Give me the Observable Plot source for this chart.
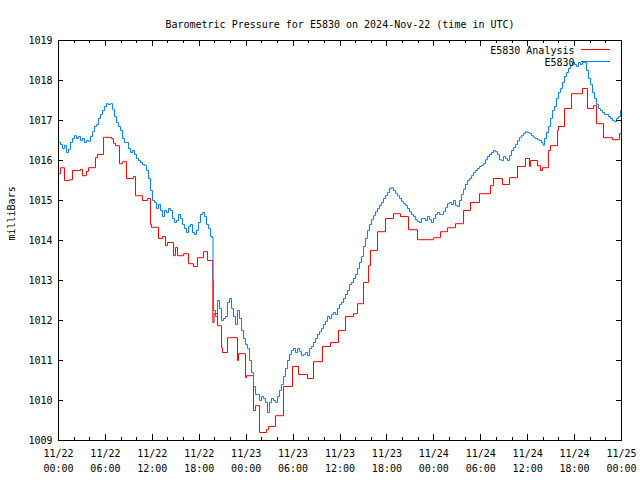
<!DOCTYPE html>
<html>
<head>
<meta charset="utf-8">
<script src="https://cdn.jsdelivr.net/npm/d3@7"></script>
<script src="https://cdn.jsdelivr.net/npm/@observablehq/plot@0.6"></script>
<style>
  html, body { margin: 0; padding: 0; background: #fff; }
  #chart svg { display: block; }
</style>
</head>
<body>
<div id="chart"></div>
<script>
// ---- Data (hours since 2024-11-22 00:00 UTC, pressure in mb) ----
const startTime = "2024-11-22T00:00:00Z";
const endTime = "2024-11-25T00:00:00Z";
const titleText = "Barometric Pressure for E5830 on 2024-Nov-22 (time in UTC)";
const yLabelText = "milliBars";
const seriesNames = ["E5830 Analysis", "E5830"];
const seriesColors = ["#ff0000", "#0080ff"];
const yTicks = [1009, 1010, 1011, 1012, 1013, 1014, 1015, 1016, 1017, 1018, 1019];
const xMajorStepHours = 6;
const xMinorStepHours = 2;

// Station observations (E5830)
const obsHours = [
 0.00,0.26,0.51,0.77,1.02,1.28,1.53,1.79,2.05,2.30,2.56,2.81,3.07,3.33,3.58,3.84,4.09,4.35,4.60,4.86,
 5.12,5.37,5.63,5.88,6.14,6.39,6.65,6.91,7.16,7.42,7.67,7.93,8.19,8.44,8.70,8.95,9.21,9.46,9.72,9.98,
 10.23,10.49,10.74,11.00,11.25,11.51,11.77,12.02,12.28,12.53,12.79,13.05,13.30,13.56,13.81,14.07,14.32,14.58,14.84,15.09,
 15.35,15.60,15.86,16.11,16.37,16.63,16.88,17.14,17.39,17.65,17.90,18.16,18.42,18.67,18.93,19.18,19.44,19.70,19.76,19.82,
 20.08,20.33,20.59,20.85,21.10,21.36,21.61,21.87,22.13,22.38,22.64,22.89,23.15,23.40,23.66,23.92,24.17,24.43,24.68,24.94,
 25.20,25.45,25.71,25.96,26.22,26.47,26.73,26.99,27.24,27.50,27.75,28.01,28.26,28.52,28.78,29.03,29.29,29.54,29.80,30.05,
 30.31,30.57,30.82,31.08,31.33,31.59,31.85,32.10,32.36,32.61,32.87,33.12,33.38,33.64,33.89,34.15,34.40,34.66,34.92,35.17,
 35.43,35.68,35.94,36.19,36.45,36.71,36.96,37.22,37.47,37.73,37.98,38.24,38.50,38.75,39.01,39.26,39.52,39.78,40.03,40.29,
 40.54,40.80,41.05,41.31,41.56,41.82,42.08,42.33,42.59,42.84,43.10,43.36,43.61,43.87,44.12,44.38,44.63,44.89,45.14,45.40,
 45.66,45.91,46.17,46.42,46.68,46.94,47.19,47.45,47.70,47.96,48.21,48.47,48.73,48.98,49.24,49.49,49.75,50.00,50.26,50.52,
 50.77,51.03,51.28,51.54,51.80,52.05,52.31,52.56,52.82,53.07,53.33,53.59,53.84,54.10,54.35,54.61,54.86,55.12,55.38,55.63,
 55.89,56.14,56.40,56.66,56.91,57.17,57.42,57.68,57.93,58.19,58.45,58.70,58.96,59.21,59.47,59.72,59.98,60.24,60.49,60.75,
 61.00,61.26,61.51,61.77,61.96,62.15,62.41,62.66,62.92,63.18,63.43,63.69,63.94,64.20,64.45,64.71,64.97,65.22,65.48,65.73,
 65.99,66.25,66.50,66.76,67.01,67.27,67.52,67.78,68.04,68.29,68.55,68.80,69.06,69.32,69.57,69.83,70.08,70.34,70.59,70.85,
 71.10,71.36,71.62,71.87,72.00
];
const obsValues = [
 1016.46,1016.40,1016.30,1016.38,1016.20,1016.28,1016.45,1016.55,1016.62,1016.55,1016.60,1016.50,1016.55,1016.45,1016.50,1016.48,1016.60,1016.72,1016.85,1016.90,
 1017.05,1017.15,1017.25,1017.35,1017.42,1017.40,1017.42,1017.28,1017.10,1016.95,1016.85,1016.75,1016.55,1016.45,1016.45,1016.30,1016.20,1016.25,1016.15,1016.05,
 1016.00,1015.95,1015.90,1015.88,1015.75,1015.55,1015.25,1015.00,1014.95,1014.80,1014.90,1014.75,1014.60,1014.75,1014.70,1014.80,1014.75,1014.55,1014.45,1014.50,
 1014.65,1014.55,1014.40,1014.30,1014.20,1014.35,1014.40,1014.20,1014.15,1014.25,1014.45,1014.65,1014.70,1014.60,1014.40,1014.30,1014.10,1014.05,1013.00,1012.25,
 1012.10,1012.50,1012.30,1012.00,1012.05,1012.10,1012.45,1012.55,1012.30,1012.10,1011.90,1012.25,1012.05,1011.75,1011.55,1011.40,1011.30,1011.00,1010.70,1010.35,
 1010.15,1010.15,1010.00,1010.10,1010.05,1009.95,1009.70,1009.95,1010.05,1010.00,1009.95,1010.10,1010.25,1010.40,1010.60,1010.80,1011.00,1011.15,1011.25,1011.30,
 1011.20,1011.30,1011.22,1011.12,1011.15,1011.20,1011.12,1011.30,1011.35,1011.45,1011.55,1011.65,1011.72,1011.80,1011.90,1011.98,1012.10,1012.05,1012.15,1012.20,
 1012.15,1012.30,1012.40,1012.45,1012.55,1012.65,1012.75,1012.90,1012.95,1013.05,1013.15,1013.30,1013.45,1013.60,1013.85,1014.05,1014.25,1014.40,1014.52,1014.62,
 1014.72,1014.80,1014.88,1014.95,1015.05,1015.12,1015.20,1015.30,1015.32,1015.25,1015.18,1015.12,1015.05,1014.98,1014.92,1014.88,1014.80,1014.72,1014.65,1014.60,
 1014.52,1014.48,1014.45,1014.55,1014.55,1014.50,1014.60,1014.52,1014.45,1014.55,1014.65,1014.70,1014.65,1014.65,1014.72,1014.82,1014.92,1014.95,1014.90,1015.00,
 1014.88,1014.85,1015.00,1015.15,1015.28,1015.40,1015.50,1015.55,1015.62,1015.70,1015.75,1015.80,1015.85,1015.88,1015.92,1016.02,1016.10,1016.15,1016.20,1016.25,
 1016.22,1016.15,1016.02,1016.00,1016.10,1016.05,1016.00,1016.12,1016.25,1016.32,1016.40,1016.50,1016.58,1016.62,1016.68,1016.72,1016.70,1016.68,1016.62,1016.58,
 1016.55,1016.52,1016.50,1016.45,1016.38,1016.55,1016.70,1016.85,1017.05,1017.25,1017.35,1017.55,1017.70,1017.80,1017.95,1018.10,1018.20,1018.30,1018.37,1018.45,
 1018.40,1018.35,1018.45,1018.40,1018.45,1018.45,1018.25,1018.05,1017.90,1017.70,1017.55,1017.40,1017.30,1017.25,1017.20,1017.15,1017.15,1017.10,1017.05,1017.00,
 1016.97,1017.05,1017.10,1017.25,1017.30
];

// Analysis (E5830 Analysis), stepwise
const anaHours = [
 0.00,0.26,0.77,1.41,1.79,2.81,3.07,3.58,3.84,4.73,4.99,5.76,6.78,7.03,7.29,7.80,8.19,8.70,9.59,9.85,
 10.74,11.38,11.77,11.89,12.79,13.30,13.68,13.94,14.71,14.96,15.22,15.99,16.63,17.27,17.78,18.54,19.06,19.73,19.89,20.33,
 20.85,20.97,21.61,22.89,23.02,23.92,24.04,24.94,25.20,25.71,26.60,26.86,27.75,28.78,29.93,30.70,31.85,32.61,33.76,34.79,
 35.81,36.71,37.73,38.24,39.01,39.65,39.90,40.80,41.82,42.84,43.74,44.76,45.91,47.96,48.85,49.75,50.77,51.80,52.69,53.84,
 55.25,55.63,56.78,57.68,58.70,59.72,60.24,60.37,61.26,61.64,61.90,62.66,62.92,63.82,63.94,64.71,65.61,67.01,67.65,68.42,
 68.80,69.70,70.85,71.75,72.00
];
const anaValues = [
 1015.67,1015.82,1015.50,1015.52,1015.75,1015.78,1015.62,1015.73,1015.82,1016.07,1016.15,1016.58,1016.55,1016.43,1016.37,1015.92,1015.97,1015.55,1015.60,1015.12,
 1015.00,1015.05,1014.40,1014.33,1014.05,1014.10,1013.87,1013.95,1013.62,1013.83,1013.62,1013.67,1013.42,1013.35,1013.57,1013.72,1013.50,1011.95,1012.17,1011.87,
 1011.32,1011.20,1011.57,1011.00,1011.17,1010.57,1010.62,1009.75,1009.87,1009.20,1009.27,1009.35,1009.62,1010.35,1010.85,1010.65,1010.55,1010.97,1011.35,1011.45,
 1011.75,1012.10,1012.17,1012.42,1012.95,1013.37,1013.75,1014.22,1014.55,1014.67,1014.60,1014.27,1014.02,1014.07,1014.22,1014.32,1014.42,1014.75,1014.95,1015.17,
 1015.37,1015.55,1015.40,1015.57,1015.85,1016.05,1015.85,1016.00,1015.87,1015.75,1015.82,1016.25,1016.37,1016.75,1016.85,1017.30,1017.67,1017.80,1017.30,1017.37,
 1016.92,1016.57,1016.52,1016.67,1016.67
];

// ---- Build tables ----
const t0 = new Date(startTime);
const t1 = new Date(endTime);
const toDate = h => new Date(t0.getTime() + h * 3600e3);
const obs = obsHours.map((h, i) => ({t: toDate(h), v: obsValues[i]}));
const ana = anaHours.map((h, i) => ({t: toDate(h), v: anaValues[i]}));
const minorTicks = d3.utcHour.every(xMinorStepHours).range(t0, new Date(t1.getTime() + 1));
const majorTicks = d3.utcHour.every(xMajorStepHours).range(t0, new Date(t1.getTime() + 1));
const fmt = d3.utcFormat("%m/%d\n%H:%M");

const FONT = "'DejaVu Sans Mono', 'Liberation Mono', monospace";

const plot = Plot.plot({
  width: 640,
  height: 480,
  marginLeft: 58,
  marginRight: 19,
  marginTop: 40,
  marginBottom: 40,
  style: {fontFamily: FONT, fontSize: "10px", color: "#000", background: "#fff"},
  x: {type: "utc", domain: [t0, t1]},
  y: {domain: [1009, 1019]},
  marks: [
    Plot.axisX(majorTicks, {tickSize: 0, tickPadding: 6, tickFormat: d => fmt(d), lineHeight: 1.5, label: null, fontSize: 10}),
    Plot.axisY(yTicks, {tickSize: 0, tickPadding: 6, tickFormat: d => String(d), label: null, fontSize: 10}),
    Plot.line(ana, {x: "t", y: "v", stroke: seriesColors[0], strokeWidth: 1, curve: "step-after"}),
    Plot.line(obs, {x: "t", y: "v", stroke: seriesColors[1], strokeWidth: 1, curve: "step-after"}),
    Plot.frame({stroke: "#000", strokeWidth: 1}),
    Plot.text([titleText], {text: d => d, frameAnchor: "top", dy: -20, fontSize: 10, fill: "#000"}),
    Plot.text([yLabelText], {text: d => d, frameAnchor: "left", rotate: -90, dx: -47, fontSize: 10, fill: "#000"}),
    Plot.text([seriesNames[0]], {text: d => d, frameAnchor: "top-right", textAnchor: "end", dx: -47, dy: 6, fontSize: 10, fill: "#000"}),
    Plot.text([seriesNames[1]], {text: d => d, frameAnchor: "top-right", textAnchor: "end", dx: -47, dy: 18, fontSize: 10, fill: "#000"})
  ]
});

// Inward tick marks (gnuplot style) and legend samples, positioned via Plot's scales
const xs = plot.scale("x"), ys = plot.scale("y");
const xl = xs.apply(t0), xr = xs.apply(t1);
const yb = ys.apply(yTicks[0]), yt = ys.apply(yTicks[yTicks.length - 1]);
const g = d3.select(plot).append("g").attr("stroke", "#000").attr("stroke-width", 1).attr("fill", "none");
const majorSet = new Set(majorTicks.map(d => +d));
for (const t of minorTicks) {
  const px = Math.round(xs.apply(t)) + 0.5;
  const len = majorSet.has(+t) ? 6 : 3;
  g.append("path").attr("d", `M${px},${yb}v${-len}M${px},${yt}v${len}`);
}
for (const v of yTicks) {
  const py = Math.round(ys.apply(v)) + 0.5;
  g.append("path").attr("d", `M${xl},${py}h5M${xr},${py}h-5`);
}
const ns = "http://www.w3.org/2000/svg";
seriesColors.forEach((c, i) => {
  const p = document.createElementNS(ns, "path");
  const py = Math.round(yt) + 9.5 + i * 12;
  p.setAttribute("d", `M${xr - 40},${py}h29`);
  p.setAttribute("fill", "none");
  p.setAttribute("stroke", c);
  p.setAttribute("stroke-width", "1");
  plot.appendChild(p);
});

document.getElementById("chart").appendChild(plot);
</script>
</body>
</html>
